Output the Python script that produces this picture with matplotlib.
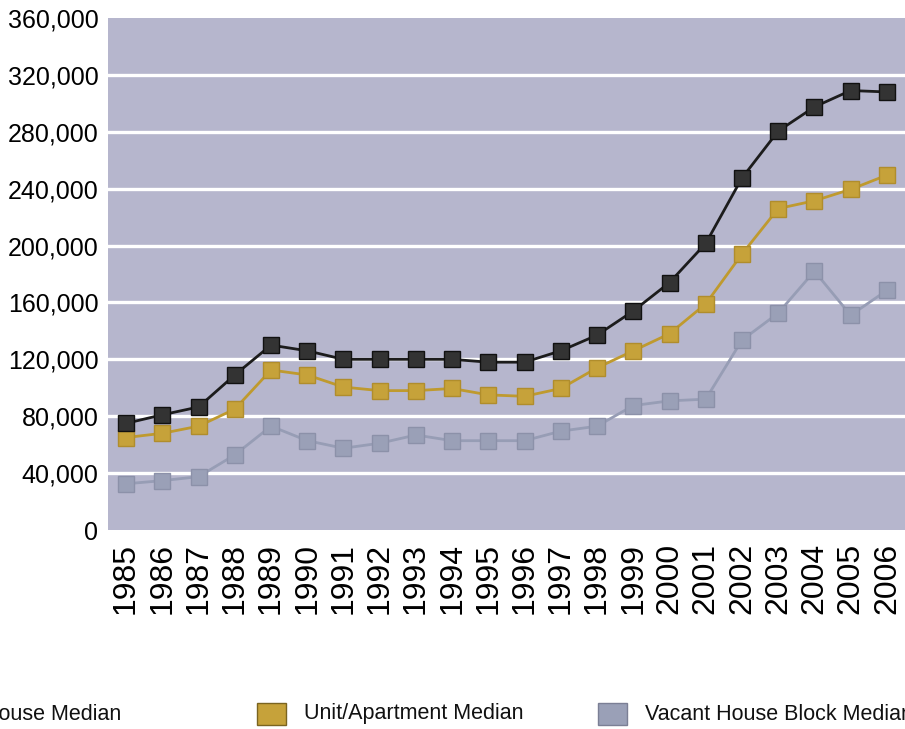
import matplotlib
matplotlib.use("Agg")
import matplotlib.pyplot as plt
from matplotlib.patches import Rectangle
from matplotlib.ticker import FuncFormatter

plt.rcParams['font.family'] = ['Liberation Sans', 'DejaVu Sans']

years = list(range(1985, 2007))
house_median = [75000, 81000, 86500, 109000, 130000, 126000, 120000, 120000, 120000, 120000,
                118000, 118000, 126000, 137000, 154000, 174000, 201500, 247500, 280500, 297500,
                309000, 308000]
unit_median = [65000, 68000, 73000, 85000, 112500, 109000, 100500, 98000, 98000, 99500,
               95000, 94000, 99500, 114000, 126000, 138000, 159000, 194000, 226000, 231500,
               239500, 249500]
vacant_median = [32500, 34700, 37500, 52800, 73000, 62800, 57500, 61000, 66800, 62800,
                 62800, 62800, 69500, 73000, 87500, 90800, 92000, 133500, 152500, 182000,
                 151000, 168500]
series_names = ["House Median", "Unit/Apartment Median", "Vacant House Block Median"]
yticks = list(range(0, 360001, 40000))

W, H = 905, 729
fig = plt.figure(figsize=(W / 100, H / 100), dpi=100)
ax = fig.add_axes([108 / W, 1 - 530 / H, (W - 108) / W, (530 - 18) / H])
ax.set_facecolor('#b6b6cd')

ax.set_ylim(0, 360000)
ax.set_xlim(1984.5, 2006.5)
ax.set_yticks(yticks)
ax.yaxis.set_major_formatter(FuncFormatter(lambda v, p: f"{int(v):,}"))
ax.set_xticks(years)
ax.set_xticklabels([str(y) for y in years], rotation=90)
ax.tick_params(axis='y', length=0, labelsize=18, pad=7)
ax.tick_params(axis='x', length=0, labelsize=23, pad=9)
for s in ax.spines.values():
    s.set_visible(False)

for yv in yticks[1:-1]:
    ax.axhline(yv, color='#8e8ea6', lw=0.8, zorder=1, alpha=0.8)
    ax.axhline(yv, color='white', lw=2.4, zorder=1.1)

colors_line = ['#1c1c1c', '#bf9a2e', '#979db5']
colors_face = ['#333333', '#c6a23a', '#9aa0b7']
colors_edge = ['#111111', '#b08d2c', '#8c91a9']
for vals, cl, cf, ce in zip([vacant_median, unit_median, house_median],
                            colors_line[::-1], colors_face[::-1], colors_edge[::-1]):
    ax.plot(years, vals, color=cl, lw=2.0, marker='s', markersize=11.5,
            markerfacecolor=cf, markeredgecolor=ce, markeredgewidth=1.0, zorder=3)

# legend (manual, extends beyond figure edge like the reference)
leg_x = [-64, 257, 598]
leg_edges = ['#111111', '#7a6420', '#7b7f95']
for name, x0, cf, ce in zip(series_names, leg_x, colors_face, leg_edges):
    fig.add_artist(Rectangle((x0 / W, 1 - 725 / H), 29 / W, 22 / H,
                             transform=fig.transFigure, facecolor=cf,
                             edgecolor=ce, lw=1.0))
    fig.text((x0 + 47) / W, 1 - 714 / H, name, fontsize=15.5, va='center', ha='left',
             color='#111111')

fig.savefig('out.png', dpi=100)
